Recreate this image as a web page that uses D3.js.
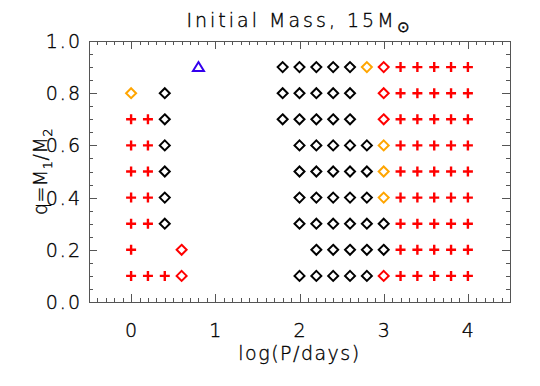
<!DOCTYPE html>
<html>
<head>
<meta charset="utf-8">
<script src="https://cdn.jsdelivr.net/npm/d3@7"></script>
<style>
  html, body { margin: 0; padding: 0; background: #fff; }
  text { font-family: "DejaVu Sans", "Liberation Sans", sans-serif; font-weight: 200;
         fill: #000; stroke: #000; stroke-width: 0.35px; }
</style>
</head>
<body>
<div id="chart"></div>
<script>
'use strict';

// log(P/days) grid columns and mass-ratio rows
const logPColumns = [0.0, 0.2, 0.4, 0.6, 0.8, 1.0, 1.2, 1.4, 1.6, 1.8, 2.0,
                     2.2, 2.4, 2.6, 2.8, 3.0, 3.2, 3.4, 3.6, 3.8, 4.0];
const qRows = [0.9, 0.8, 0.7, 0.6, 0.5, 0.4, 0.3, 0.2, 0.1];

// outcome per cell: P red plus, K black diamond, O orange diamond,
// R red diamond, T blue triangle, . nothing
const outcomeRows = [
    "....T....KKKKKORPPPPP",
    "O.K......KKKKK.RPPPPP",
    "PPK......KKKKK.RPPPPP",
    "PPK.......KKKKKOPPPPP",
    "PPK.......KKKKKOPPPPP",
    "PPK.......KKKKKOPPPPP",
    "PPK.......KKKKKKPPPPP",
    "P..R.......KKKKKPPPPP",
    "PPPR......KKKKKRPPPPP"
];

const xTicks = [0, 1, 2, 3, 4];
const yTicks = [0.0, 0.2, 0.4, 0.6, 0.8, 1.0];

const width = 540, height = 386;
const plotLeft = 89, plotRight = 510, plotTop = 41, plotBottom = 302;

const svg = d3.select("#chart").append("svg")
    .attr("width", width)
    .attr("height", height);

const x = d3.scaleLinear().domain([-0.5, 4.5]).range([plotLeft, plotRight]);
const y = d3.scaleLinear().domain([0, 1]).range([plotBottom, plotTop]);

// build the point list from the grid
const points = [];
outcomeRows.forEach((row, i) => {
    row.split("").forEach((c, j) => {
        if (c !== ".") points.push({ logP: logPColumns[j], q: qRows[i], kind: c });
    });
});

// frame
svg.append("rect")
    .attr("x", plotLeft + 0.5).attr("y", plotTop + 0.5)
    .attr("width", plotRight - plotLeft).attr("height", plotBottom - plotTop)
    .attr("fill", "none").attr("stroke", "#555").attr("stroke-width", 1);

// ticks on all four sides, pointing inward
const xMinor = d3.range(-0.5, 4.5001, 0.1).map(v => +v.toFixed(2));
const yMinor = d3.range(0, 1.0001, 0.05).map(v => +v.toFixed(2));
const isMajor = (v, step) => Math.abs(v / step - Math.round(v / step)) < 1e-6;

const ticks = svg.append("g").attr("stroke", "#555").attr("stroke-width", 1);
xMinor.forEach(v => {
    const len = isMajor(v, 1) ? 8 : 4;
    const px = Math.round(x(v)) + 0.5;
    ticks.append("line").attr("x1", px).attr("x2", px).attr("y1", plotBottom).attr("y2", plotBottom - len);
    ticks.append("line").attr("x1", px).attr("x2", px).attr("y1", plotTop).attr("y2", plotTop + len);
});
yMinor.forEach(v => {
    const len = isMajor(v, 0.2) ? 8 : 4;
    const py = Math.round(y(v)) + 0.5;
    ticks.append("line").attr("y1", py).attr("y2", py).attr("x1", plotLeft).attr("x2", plotLeft + len);
    ticks.append("line").attr("y1", py).attr("y2", py).attr("x1", plotRight).attr("x2", plotRight - len);
});

// tick labels
svg.append("g").selectAll("text")
    .data(xTicks)
    .enter().append("text")
    .attr("x", d => x(d))
    .attr("y", plotBottom + 35)
    .attr("text-anchor", "middle")
    .style("font-size", "19px")
    .text(d => d);

svg.append("g").selectAll("text")
    .data(yTicks)
    .enter().append("text")
    .attr("x", plotLeft - 7)
    .attr("y", d => y(d) + 7)
    .attr("text-anchor", "end")
    .style("font-size", "19px")
    .style("letter-spacing", "2px")
    .text(d => d.toFixed(1));

// markers
const colors = { P: "#ff0000", K: "#000000", O: "#ffa500", R: "#ff0000", T: "#3300ee" };
const marks = svg.append("g").attr("fill", "none").attr("stroke-width", 2);

points.forEach(d => {
    const px = x(d.logP), py = y(d.q);
    if (d.kind === "P") {
        marks.append("path")
            .attr("d", `M${px - 5},${py}H${px + 5}M${px},${py - 5}V${py + 5}`)
            .attr("stroke", colors.P)
            .attr("stroke-width", 2.4);
    } else if (d.kind === "T") {
        marks.append("path")
            .attr("d", `M${px},${py - 5}L${px + 5.5},${py + 4}L${px - 5.5},${py + 4}Z`)
            .attr("stroke", colors.T);
    } else {
        marks.append("path")
            .attr("d", `M${px},${py - 5}L${px + 5},${py}L${px},${py + 5}L${px - 5},${py}Z`)
            .attr("stroke", colors[d.kind]);
    }
});

// title
const title = svg.append("text")
    .attr("x", (plotLeft + plotRight) / 2)
    .attr("y", 27)
    .attr("text-anchor", "middle")
    .style("font-size", "19px")
    .style("letter-spacing", "3px");
title.append("tspan").text("Initial Mass, 15M");
title.append("tspan").attr("dy", 5).style("font-size", "15px").text("\u2299");

// x label
svg.append("text")
    .attr("x", (plotLeft + plotRight) / 2)
    .attr("y", 360)
    .attr("text-anchor", "middle")
    .style("font-size", "19px")
    .style("letter-spacing", "1.5px")
    .text("log(P/days)");

// y label
const ylab = svg.append("text")
    .attr("transform", `translate(47,${(plotTop + plotBottom) / 2}) rotate(-90)`)
    .attr("text-anchor", "middle")
    .style("font-size", "19px")
    .style("letter-spacing", "0.5px");
ylab.append("tspan").text("q=M");
ylab.append("tspan").attr("dy", 5).style("font-size", "13px").text("1");
ylab.append("tspan").attr("dy", -5).text("/M");
ylab.append("tspan").attr("dy", 5).style("font-size", "13px").text("2");
</script>
</body>
</html>
